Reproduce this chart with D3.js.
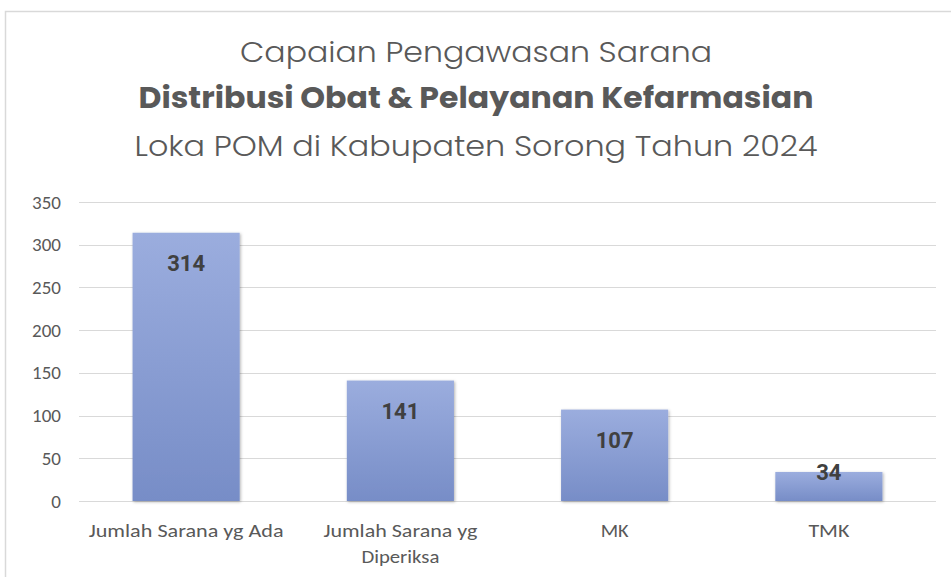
<!DOCTYPE html>
<html lang="id">
<head>
<meta charset="utf-8">
<title>Capaian Pengawasan Sarana</title>
<script src="https://cdn.jsdelivr.net/npm/d3@7"></script>
<style>
  body { margin: 0; background: #fff; }
  svg { display: block; }
</style>
</head>
<body>
<div id="main"></div>
<script>
// data
const categories = [["Jumlah Sarana yg Ada"], ["Jumlah Sarana yg", "Diperiksa"], ["MK"], ["TMK"]];
const values = [314, 141, 107, 34];
const yTicks = [0, 50, 100, 150, 200, 250, 300, 350];
const titleLines = ["Capaian Pengawasan Sarana", "Distribusi Obat & Pelayanan Kefarmasian", "Loka POM di Kabupaten Sorong Tahun 2024"];

const W = 951, H = 577;
const svg = d3.select("#main").append("svg").attr("width", W).attr("height", H);

// chart frame
svg.append("rect")
  .attr("x", 5.5).attr("y", 11.5).attr("width", 1000).attr("height", 700)
  .attr("fill", "#fff").attr("stroke", "#d9d9d9").attr("stroke-width", 1.5);

// titles
const titleFont = "Poppins, Lato, 'Open Sans', sans-serif";
const tl = [
  { y: 62, w: 472, weight: 300, size: 29 },
  { y: 108, w: 675, weight: 700, size: 29 },
  { y: 156, w: 683, weight: 300, size: 29 }
];
svg.selectAll("text.title")
  .data(titleLines)
  .enter().append("text")
  .attr("class", "title")
  .attr("x", 476)
  .attr("y", (d, i) => tl[i].y)
  .attr("text-anchor", "middle")
  .attr("font-family", titleFont)
  .attr("font-weight", (d, i) => tl[i].weight)
  .attr("font-size", (d, i) => tl[i].size)
  .attr("fill", "#595959")
  .attr("textLength", (d, i) => tl[i].w)
  .attr("lengthAdjust", "spacingAndGlyphs")
  .text(d => d);

// scales
const x = d3.scaleBand().domain(d3.range(values.length)).range([79, 936]).paddingInner(0.5).paddingOuter(0.25);
const y = d3.scaleLinear().domain([0, 350]).range([501, 202]);

// gridlines
svg.append("g")
  .selectAll("line")
  .data(yTicks)
  .enter().append("line")
  .attr("x1", 79).attr("x2", 936)
  .attr("y1", d => Math.round(y(d)) + 0.5).attr("y2", d => Math.round(y(d)) + 0.5)
  .attr("stroke", "#d9d9d9").attr("stroke-width", 1.2);

// y axis labels
const axisFont = "Carlito, Lato, 'Open Sans', sans-serif";
const yAxis = d3.axisLeft(y).tickValues(yTicks).tickSize(0).tickPadding(0);
const gy = svg.append("g").attr("transform", "translate(61,0)").call(yAxis);
gy.select(".domain").remove();
gy.selectAll("text")
  .attr("font-family", axisFont).attr("font-size", 19).attr("fill", "#595959");

// gradient and shadow
const defs = svg.append("defs");
const grad = defs.append("linearGradient").attr("id", "barGrad")
  .attr("x1", 0).attr("y1", 0).attr("x2", 0).attr("y2", 1);
grad.append("stop").attr("offset", "0%").attr("stop-color", "#9badde");
grad.append("stop").attr("offset", "100%").attr("stop-color", "#778dc7");
const f = defs.append("filter").attr("id", "shadow")
  .attr("x", "-10%").attr("y", "-10%").attr("width", "130%").attr("height", "130%");
f.append("feDropShadow").attr("dx", 1).attr("dy", 1).attr("stdDeviation", 1.5)
  .attr("flood-color", "#000").attr("flood-opacity", 0.3);

// bars
svg.append("g")
  .selectAll("rect")
  .data(values)
  .enter().append("rect")
  .attr("x", (d, i) => x(i))
  .attr("width", x.bandwidth())
  .attr("y", d => y(d))
  .attr("height", d => y(0) - y(d))
  .attr("fill", "url(#barGrad)")
  .attr("filter", "url(#shadow)");

// value labels (inside end, clamped near base)
svg.append("g")
  .selectAll("text")
  .data(values)
  .enter().append("text")
  .attr("x", (d, i) => x(i) + x.bandwidth() / 2)
  .attr("y", d => Math.min(y(d) + 30, y(0) - 29) + 8)
  .attr("text-anchor", "middle")
  .attr("font-family", "Roboto, 'Liberation Sans', sans-serif")
  .attr("font-weight", 700)
  .attr("font-size", 22)
  .attr("fill", "#404040")
  .text(d => d);

// category labels (widths)
const catWidths = [[195], [154, 78], [28], [41]];
const gx = svg.append("g");
categories.forEach((lines, i) => {
  const cx = x(i) + x.bandwidth() / 2;
  lines.forEach((ln, j) => {
    gx.append("text")
      .attr("x", cx)
      .attr("y", 537 + j * 26)
      .attr("text-anchor", "middle")
      .attr("font-family", axisFont).attr("font-size", 19).attr("fill", "#595959")
      .attr("textLength", catWidths[i][j])
      .attr("lengthAdjust", "spacingAndGlyphs")
      .text(ln);
  });
});
</script>
</body>
</html>
